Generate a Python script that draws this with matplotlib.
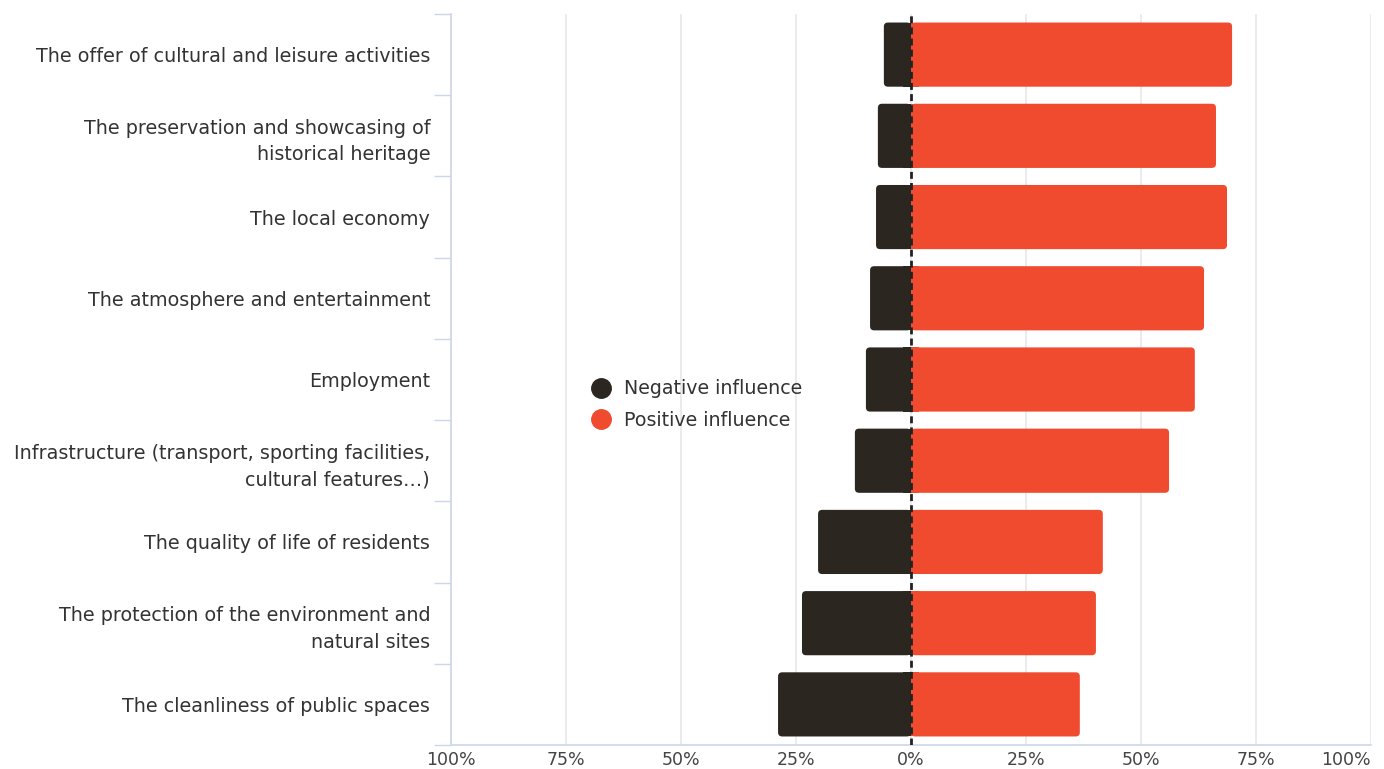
import numpy as np
import matplotlib.pyplot as plt
from matplotlib.lines import Line2D
from matplotlib.patches import FancyBboxPatch, Rectangle

categories = [
    "The offer of cultural and leisure activities",
    "The preservation and showcasing of\nhistorical heritage",
    "The local economy",
    "The atmosphere and entertainment",
    "Employment",
    "Infrastructure (transport, sporting facilities,\ncultural features…)",
    "The quality of life of residents",
    "The protection of the environment and\nnatural sites",
    "The cleanliness of public spaces",
]
negative = [5.9, 7.2, 7.6, 8.9, 9.8, 12.2, 20.2, 23.7, 28.9]
positive = [69.8, 66.3, 68.7, 63.7, 61.7, 56.1, 41.7, 40.2, 36.7]
ticks = [-100, -75, -50, -25, 0, 25, 50, 75, 100]
tick_labels = ["100%", "75%", "50%", "25%", "0%", "25%", "50%", "75%", "100%"]

plt.rcParams['font.family'] = ['DejaVu Sans']

dark = "#2b2620"
red = "#f04a2f"
axis_col = "#cdd6ea"
grid_col = "#e8e8ec"

fig = plt.figure(figsize=(13.84, 7.69), dpi=100)
ax = fig.add_axes([451 / 1384, 24 / 769, 920 / 1384, 731 / 769])

y = np.arange(len(categories))
neg_bars = ax.barh(y, [-v for v in negative], height=0.79, color=dark, zorder=3)
pos_bars = ax.barh(y, positive, height=0.79, color=red, zorder=3)

ax.set_xlim(-100, 100)
ax.set_ylim(len(categories) - 0.5, -0.5)

# rounded outer corners
r = 0.9
asp = 0.056
for bars, col in [(neg_bars, dark), (pos_bars, red)]:
    for b in bars:
        b.set_visible(False)
        x0, y0, w, h = b.get_x(), b.get_y(), b.get_width(), b.get_height()
        if w < 0:
            x0, w = x0 + w, -w
        ax.add_patch(FancyBboxPatch((x0, y0), w, h, boxstyle=f"round,pad=0,rounding_size={r}",
                                    mutation_aspect=asp, fc=col, ec="none", zorder=3))
        # square inner end at zero
        sx = -min(w, 2 * r) if b.get_width() < 0 else 0
        ax.add_patch(Rectangle((sx, y0), min(w, 2 * r), h, fc=col, ec="none", zorder=3))

ax.axvline(0, color="#222222", lw=2, ls=(0, (2.5, 1.5)), zorder=4)

ax.set_xticks(ticks)
ax.set_xticklabels(tick_labels, fontsize=12.5, color="#444444")
xl = ax.get_xticklabels()
xl[-1].set_ha("right")
ax.set_yticks(y)
ax.set_yticklabels(categories, fontsize=13.8, color="#333333", linespacing=1.5)
ax.set_yticks(np.arange(len(categories) + 1) - 0.5, minor=True)
ax.tick_params(axis="y", which="major", length=0, pad=15)
ax.tick_params(axis="y", which="minor", length=12, color=axis_col, width=1)
ax.tick_params(axis="x", length=0, pad=4)
ax.grid(axis="x", color=grid_col, lw=1.2, zorder=0)

for s in ["top", "right"]:
    ax.spines[s].set_visible(False)
for s in ["left", "bottom"]:
    ax.spines[s].set_color(axis_col)
    ax.spines[s].set_linewidth(1.2)

handles = [
    Line2D([], [], marker="o", ls="", color=dark, markersize=14, label="Negative influence"),
    Line2D([], [], marker="o", ls="", color=red, markersize=14, label="Positive influence"),
]
ax.legend(handles=handles, loc="center left", bbox_to_anchor=(0.142, 0.466), frameon=False,
          fontsize=13.7, labelcolor="#333333", handletextpad=0.25, labelspacing=0.65,
          borderaxespad=0, borderpad=0)

fig.savefig("out.png", dpi=100)
